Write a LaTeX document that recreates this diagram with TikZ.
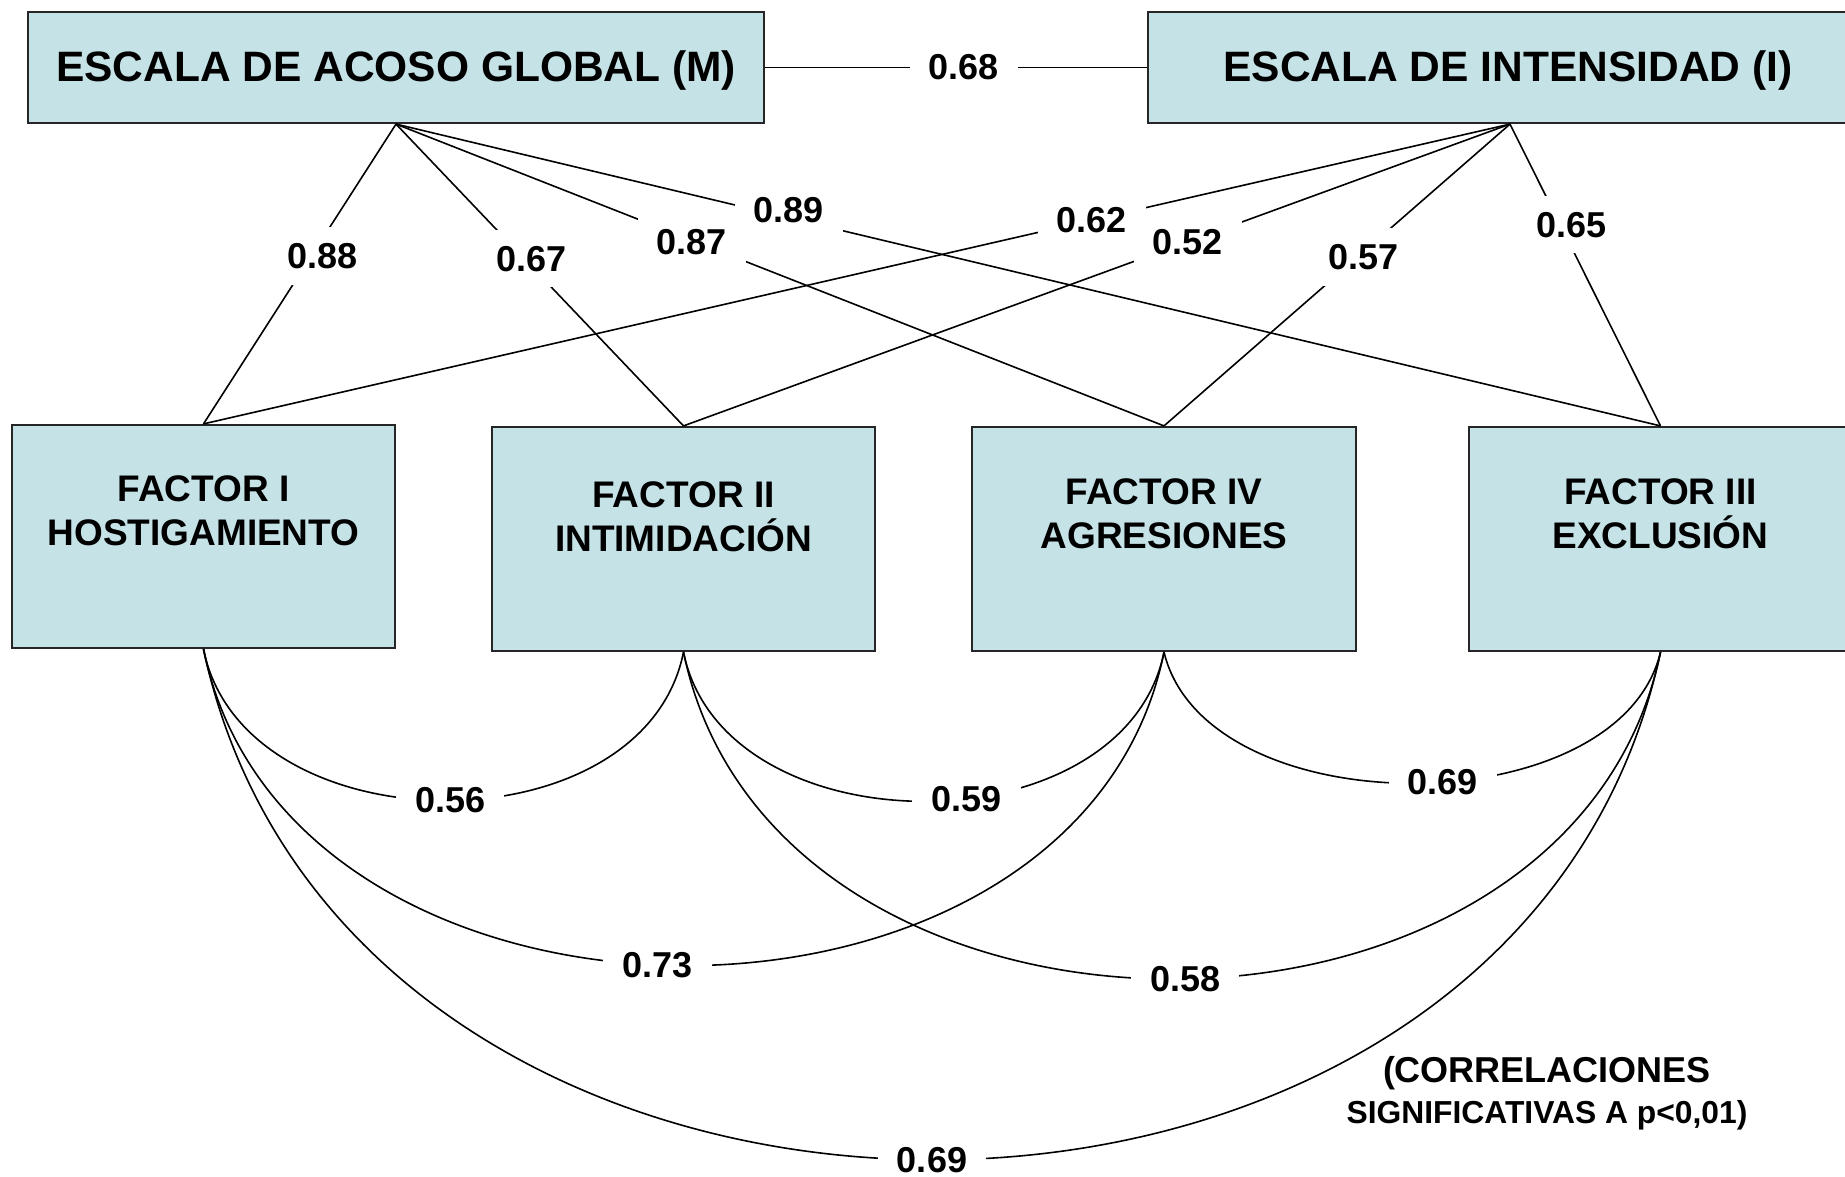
\documentclass[tikz,border=0pt]{standalone}
\usepackage{fontspec}
\setmainfont{Liberation Sans}
\definecolor{boxfill}{RGB}{197,227,230}
\begin{document}
\begin{tikzpicture}[x=1pt,y=-1pt,
  box/.style={draw=black!85, line width=2.2pt, fill=boxfill, inner sep=0pt},
  hdr/.style={font=\bfseries\fontsize{42.5}{50}\selectfont, inner sep=0pt},
  ftxt/.style={font=\bfseries\fontsize{37}{44}\selectfont, align=center, inner sep=0pt},
  lab/.style={font=\bfseries\fontsize{36}{40}\selectfont, fill=white, inner xsep=19pt, inner ysep=16pt},
  conn/.style={line width=1.6pt},
]
\useasboundingbox (0,0) rectangle (1845,1177);
\begin{scope}
\clip (0,0) rectangle (1845,1177);

% top boxes
\node[box, minimum width=736pt, minimum height=111pt] (M) at (396,67.5) {};
\node[box, minimum width=724pt, minimum height=111pt] (I) at (1510,67.5) {};
\node[hdr] (Mt) at (396,71) {ESCALA DE ACOSO GLOBAL (M)};
\node[hdr] (It) at (1508,71) {ESCALA DE INTENSIDAD (I)};

% factor boxes
\node[box, minimum width=383pt, minimum height=223pt] (F1) at (203.5,536.5) {};
\node[box, minimum width=383pt, minimum height=224pt] (F2) at (683.5,539) {};
\node[box, minimum width=384pt, minimum height=224pt] (F4) at (1164,539) {};
\node[box, minimum width=383pt, minimum height=224pt] (F3) at (1660.5,539) {};
\node[ftxt] (F1t) at (203.5,511) {FACTOR I\\HOSTIGAMIENTO};
\node[ftxt] (F2t) at (683.5,517) {FACTOR II\\INTIMIDACIÓN};
\node[ftxt] (F4t) at (1164,514) {FACTOR IV\\AGRESIONES};
\node[ftxt] (F3t) at (1660.5,514) {FACTOR III\\EXCLUSIÓN};

% correlation between scales
\draw[conn, line width=1.8pt] (M.east) -- node[lab, pos=0.52] (l68) {0.68} (I.west);

% loadings from M
\draw[conn] (M.south) -- node[lab, pos=0.44, xshift=11pt] (l88) {0.88} (F1.north);
\draw[conn] (M.south) -- node[lab, pos=0.446, xshift=7pt] (l67) {0.67} (F2.north);
\draw[conn] (M.south) -- node[lab, pos=0.385, yshift=-2pt] (l87) {0.87} (F4.north);
\draw[conn] (M.south) -- node[lab, pos=0.305, xshift=7pt, yshift=6pt] (l89) {0.89} (F3.north);

% loadings from I
\draw[conn] (I.south) -- node[lab, pos=0.32] (l62) {0.62} (F1.north);
\draw[conn] (I.south) -- node[lab, pos=0.39] (l52) {0.52} (F2.north);
\draw[conn] (I.south) -- node[lab, pos=0.44, xshift=6pt] (l57) {0.57} (F4.north);
\draw[conn] (I.south) -- node[lab, pos=0.35, xshift=9pt, yshift=5pt] (l65) {0.65} (F3.north);

% correlations between factors
\draw[conn] (F1.south) .. controls +(40,200) and +(-40,200) .. (F2.south) node[lab, pos=0.51] (l56) {0.56};
\draw[conn] (F2.south) .. controls +(40,199) and +(-40,199) .. (F4.south) node[lab, pos=0.565] (l59) {0.59};
\draw[conn] (F4.south) .. controls +(42,175) and +(-42,175) .. (F3.south) node[lab, pos=0.545] (l69a) {0.69};
\draw[conn] (F1.south) .. controls +(85,420) and +(-85,420) .. (F4.south) node[lab, pos=0.48] (l73) {0.73};
\draw[conn] (F2.south) .. controls +(90,436) and +(-90,436) .. (F3.south) node[lab, pos=0.51] (l58) {0.58};
\draw[conn] (F1.south) .. controls +(145,679) and +(-145,679) .. (F3.south) node[lab, pos=0.5] (l69b) {0.69};

% note
\node[font=\bfseries\fontsize{36}{40}\selectfont, inner sep=0pt] (n1) at (1547,1073) {(CORRELACIONES};
\node[font=\bfseries\fontsize{31.8}{36}\selectfont, inner sep=0pt] (n2) at (1547,1115) {SIGNIFICATIVAS A p<0,01)};
\end{scope}
\end{tikzpicture}
\end{document}
